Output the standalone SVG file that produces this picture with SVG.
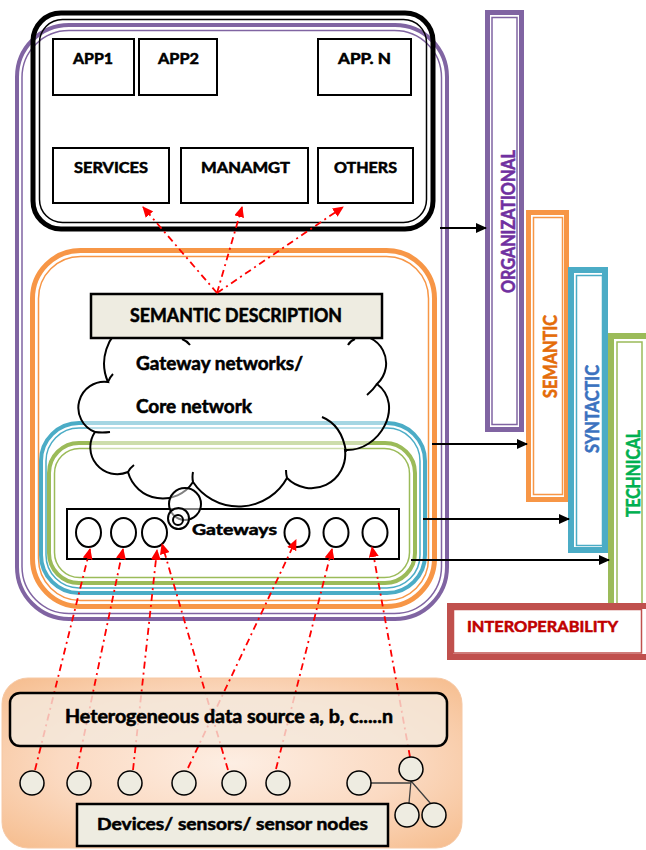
<svg xmlns="http://www.w3.org/2000/svg" width="646" height="850" viewBox="0 0 646 850">
<defs>
<style>
text{font-family:Lato,"Open Sans","Liberation Sans",sans-serif;font-weight:bold;fill:#000;stroke:#000;stroke-width:0.55;stroke-linejoin:round}
.thick{fill:none}
.thin{fill:none;stroke-width:1.5}
.box{fill:#fff;stroke:#000;stroke-width:2}
.beige{fill:#EEECE1;stroke:#000;stroke-width:2.5}
.red{fill:none;stroke:#FF0000;stroke-width:1.8;stroke-dasharray:7 4 2 4}
.blk{fill:none;stroke:#000;stroke-width:2}
.gw{fill:none;stroke:#000;stroke-width:2}
.dev{fill:#EEECE1;stroke:#000;stroke-width:1.5}
</style>
<marker id="ra" markerUnits="userSpaceOnUse" markerWidth="11" markerHeight="10" refX="10" refY="5" orient="auto"><path d="M0,0 L11,5 L0,10 Z" fill="#FF0000"/></marker>
<marker id="ba" markerUnits="userSpaceOnUse" markerWidth="11" markerHeight="10" refX="10" refY="5" orient="auto"><path d="M0,0 L11,5 L0,10 Z" fill="#000"/></marker>
<radialGradient id="bg" cx="0.5" cy="0.5" r="0.75">
<stop offset="0" stop-color="#FDEEE3"/>
<stop offset="0.5" stop-color="#FBDAC2"/>
<stop offset="1" stop-color="#F5B885"/>
</radialGradient>
</defs>

<!-- frames -->
<g id="frame-organizational">
<rect x="17" y="25" width="430" height="594" rx="52" class="thick" stroke="#8064A2" stroke-width="4"/>
<rect x="22" y="30.5" width="419.5" height="583" rx="47" class="thin" stroke="#8064A2"/>
</g>
<g id="frame-semantic">
<rect x="32.5" y="250.5" width="402" height="356" rx="48" class="thick" stroke="#F79646" stroke-width="5"/>
<rect x="38.5" y="256.5" width="390" height="344" rx="42" class="thin" stroke="#F79646"/>
</g>
<g id="frame-syntactic">
<rect x="41" y="423" width="384" height="170" rx="38" class="thick" stroke="#4BACC6" stroke-width="4"/>
<rect x="46" y="428" width="374" height="160" rx="33" class="thin" stroke="#4BACC6"/>
</g>
<g id="frame-technical">
<rect x="49" y="443" width="366" height="140" rx="30" class="thick" stroke="#9BBB59" stroke-width="4"/>
<rect x="54.5" y="448.5" width="355" height="129" rx="25" class="thin" stroke="#9BBB59"/>
</g>

<!-- application box -->
<g id="app-layer">
<rect x="33" y="13" width="400" height="216" rx="28" fill="none" stroke="#000" stroke-width="5"/>
<rect x="39.5" y="19.5" width="387" height="203" rx="23" fill="none" stroke="#000" stroke-width="1.5"/>
</g>
<g id="app1"><rect x="53" y="39" width="81" height="56" class="box"/><text x="93" y="64" font-size="15" text-anchor="middle" textLength="40" lengthAdjust="spacingAndGlyphs">APP1</text></g>
<g id="app2"><rect x="139" y="39" width="78" height="56" class="box"/><text x="178.5" y="64" font-size="15" text-anchor="middle" textLength="41" lengthAdjust="spacingAndGlyphs">APP2</text></g>
<g id="appn"><rect x="318" y="39" width="93" height="56" class="box"/><text x="364.5" y="64" font-size="15" text-anchor="middle" textLength="53" lengthAdjust="spacingAndGlyphs">APP. N</text></g>
<g id="services"><rect x="53" y="148" width="116" height="55" class="box"/><text x="111" y="173" font-size="15" text-anchor="middle" textLength="74" lengthAdjust="spacingAndGlyphs">SERVICES</text></g>
<g id="manamgt"><rect x="181" y="148" width="127" height="55" class="box"/><text x="245.5" y="173" font-size="15" text-anchor="middle" textLength="89" lengthAdjust="spacingAndGlyphs">MANAMGT</text></g>
<g id="others"><rect x="318" y="148" width="95" height="55" class="box"/><text x="365.5" y="173" font-size="15" text-anchor="middle" textLength="63" lengthAdjust="spacingAndGlyphs">OTHERS</text></g>

<!-- gateways -->
<g id="gateways">
<rect x="67" y="509" width="332" height="50" class="box"/>
<ellipse cx="88.5" cy="532.5" rx="12.5" ry="14.5" class="gw"/>
<ellipse cx="123.5" cy="532.5" rx="12.5" ry="14.5" class="gw"/>
<ellipse cx="154.5" cy="532.5" rx="12.5" ry="14.5" class="gw"/>
<ellipse cx="297" cy="532.5" rx="12.5" ry="14.5" class="gw"/>
<ellipse cx="336" cy="532.5" rx="12.5" ry="14.5" class="gw"/>
<ellipse cx="375" cy="532.5" rx="12.5" ry="14.5" class="gw"/>
<text x="192" y="535" font-size="16" textLength="85" lengthAdjust="spacingAndGlyphs">Gateways</text>
</g>

<!-- cloud -->
<g id="cloud">
<path d="M187,336 A46,46 0 0 0 108,382 A26,26 0 0 0 95,432 A27,27 0 0 0 128,472 A36,36 0 0 0 193,482 A55,55 0 0 0 287,478 A34,34 0 0 0 345,450 C380,452 405,405 377,384 A28,28 0 0 0 352,336 A95,60 0 0 0 187,336 Z" fill="#fff" fill-opacity="0.5" stroke="#000" stroke-width="2"/>
<path d="M95,432 Q102,433 110,432 M128,472 Q130,468 134,465 M193,482 Q192,477 193,472 M287,478 Q286,474 286,470 M322,417 Q342,425 346,452 M377,384 Q373,390 367,395 M108,382 Q110,377 113,374" fill="none" stroke="#000" stroke-width="2"/>
<circle cx="185" cy="504" r="16" fill="#fff" fill-opacity="0.5" stroke="#000" stroke-width="2"/>
<circle cx="178.5" cy="518.5" r="10.5" fill="#fff" fill-opacity="0.5" stroke="#000" stroke-width="2"/>
<circle cx="178" cy="520" r="5" fill="none" stroke="#000" stroke-width="2"/>
<text x="136" y="370" font-size="18" textLength="167" lengthAdjust="spacingAndGlyphs">Gateway networks/</text>
<text x="136" y="413" font-size="18" textLength="116" lengthAdjust="spacingAndGlyphs">Core network</text>
</g>

<g id="semantic-description">
<rect x="91" y="294" width="291" height="44" class="beige"/>
<path d="M182,339 Q187,341 190,345 M355,339 Q350,341 348,345" fill="none" stroke="#000" stroke-width="2"/>
<text x="236" y="322" font-size="18" text-anchor="middle" textLength="212" lengthAdjust="spacingAndGlyphs">SEMANTIC DESCRIPTION</text>
</g>

<!-- right bars -->
<g id="bar-organizational">
<rect x="487.5" y="12.5" width="34" height="417" fill="#fff" stroke="#8064A2" stroke-width="5"/>
<rect x="492" y="17.5" width="25" height="407" class="thin" stroke="#8064A2"/>
<text transform="translate(515,221.5) rotate(-90)" font-size="18" text-anchor="middle" textLength="143" lengthAdjust="spacingAndGlyphs" style="fill:#7030A0;stroke:#7030A0">ORGANIZATIONAL</text>
</g>
<g id="bar-semantic">
<rect x="528.5" y="212.5" width="38" height="287" fill="#fff" stroke="#F79646" stroke-width="5"/>
<rect x="533.5" y="217.5" width="29" height="277" class="thin" stroke="#F79646"/>
<text transform="translate(557,356.5) rotate(-90)" font-size="18" text-anchor="middle" textLength="83" lengthAdjust="spacingAndGlyphs" style="fill:#E46C0A;stroke:#E46C0A">SEMANTIC</text>
</g>
<g id="bar-syntactic">
<rect x="571" y="270" width="34" height="280" fill="#fff" stroke="#4BACC6" stroke-width="6"/>
<rect x="576.5" y="275.5" width="26" height="270" class="thin" stroke="#4BACC6"/>
<text transform="translate(599,409) rotate(-90)" font-size="18" text-anchor="middle" textLength="88" lengthAdjust="spacingAndGlyphs" style="fill:#3B72BF;stroke:#3B72BF">SYNTACTIC</text>
</g>
<g id="bar-technical">
<rect x="611" y="336" width="38" height="280" fill="#fff" stroke="#9BBB59" stroke-width="6"/>
<rect x="617" y="342" width="25" height="270" class="thin" stroke="#9BBB59"/>
<text transform="translate(640,473.5) rotate(-90)" font-size="18" text-anchor="middle" textLength="87" lengthAdjust="spacingAndGlyphs" style="fill:#00B050;stroke:#00B050">TECHNICAL</text>
</g>
<g id="interoperability">
<rect x="450" y="606" width="200" height="51" fill="#fff" stroke="#C0504D" stroke-width="6"/>
<rect x="453.5" y="609.5" width="188" height="43.5" class="thin" stroke="#C0504D"/>
<text x="467" y="632" font-size="16" textLength="151" lengthAdjust="spacingAndGlyphs" style="fill:#C00000;stroke:#C00000">INTEROPERABILITY</text>
</g>

<!-- bottom panel background -->
<g id="data-source-panel">
<rect x="2" y="678" width="460" height="170" rx="26" fill="url(#bg)" stroke="#F6C8A4" stroke-width="1"/>
</g>

<!-- connectors -->
<g id="connectors">
<path d="M217,293 L143,207" class="red" marker-end="url(#ra)"/>
<path d="M217,293 L242,207" class="red" marker-end="url(#ra)"/>
<path d="M217,293 L343,207" class="red" marker-end="url(#ra)"/>
<path d="M35,770 L90,549" class="red" marker-end="url(#ra)"/>
<path d="M77,769 L123,549" class="red" marker-end="url(#ra)"/>
<path d="M133,770 L157,550" class="red" marker-end="url(#ra)"/>
<path d="M188,768 L296,540" class="red" marker-end="url(#ra)"/>
<path d="M228,770 L162,544" class="red" marker-end="url(#ra)"/>
<path d="M276,769 L332,549" class="red" marker-end="url(#ra)"/>
<path d="M410,757 L372,547" class="red" marker-end="url(#ra)"/>
<path d="M440,228 L486,228" class="blk" marker-end="url(#ba)"/>
<path d="M432,444 L527,444" class="blk" marker-end="url(#ba)"/>
<path d="M423,519 L569,519" class="blk" marker-end="url(#ba)"/>
<path d="M411,560 L609,560" class="blk" marker-end="url(#ba)"/>
<path d="M371,783 L411,783 M411,781 L409,803 M411,781 L431,804" fill="none" stroke="#404040" stroke-width="1.3"/>
</g>

<!-- bottom nodes -->
<g id="heterogeneous-source">
<rect x="10" y="693" width="437" height="53" rx="10" fill="#F4E8DC" fill-opacity="0.8" stroke="#000" stroke-width="2.5"/>
<text x="65" y="723" font-size="18" textLength="328" lengthAdjust="spacingAndGlyphs">Heterogeneous data source a, b, c.....n</text>
</g>
<g id="devices">
<circle cx="32" cy="783" r="12" class="dev"/>
<circle cx="79" cy="783" r="12" class="dev"/>
<circle cx="130" cy="783" r="12" class="dev"/>
<circle cx="184" cy="783" r="12" class="dev"/>
<circle cx="234" cy="783" r="12" class="dev"/>
<circle cx="278" cy="783" r="12" class="dev"/>
<circle cx="359" cy="783" r="12" class="dev"/>
<circle cx="411" cy="769" r="12" class="dev"/>
<circle cx="407" cy="815" r="12" class="dev"/>
<circle cx="434" cy="815" r="12" class="dev"/>
</g>
<g id="devices-label">
<rect x="77" y="804" width="311" height="42" class="beige"/>
<text x="97" y="830" font-size="17" textLength="271" lengthAdjust="spacingAndGlyphs">Devices/ sensors/ sensor nodes</text>
</g>
</svg>
